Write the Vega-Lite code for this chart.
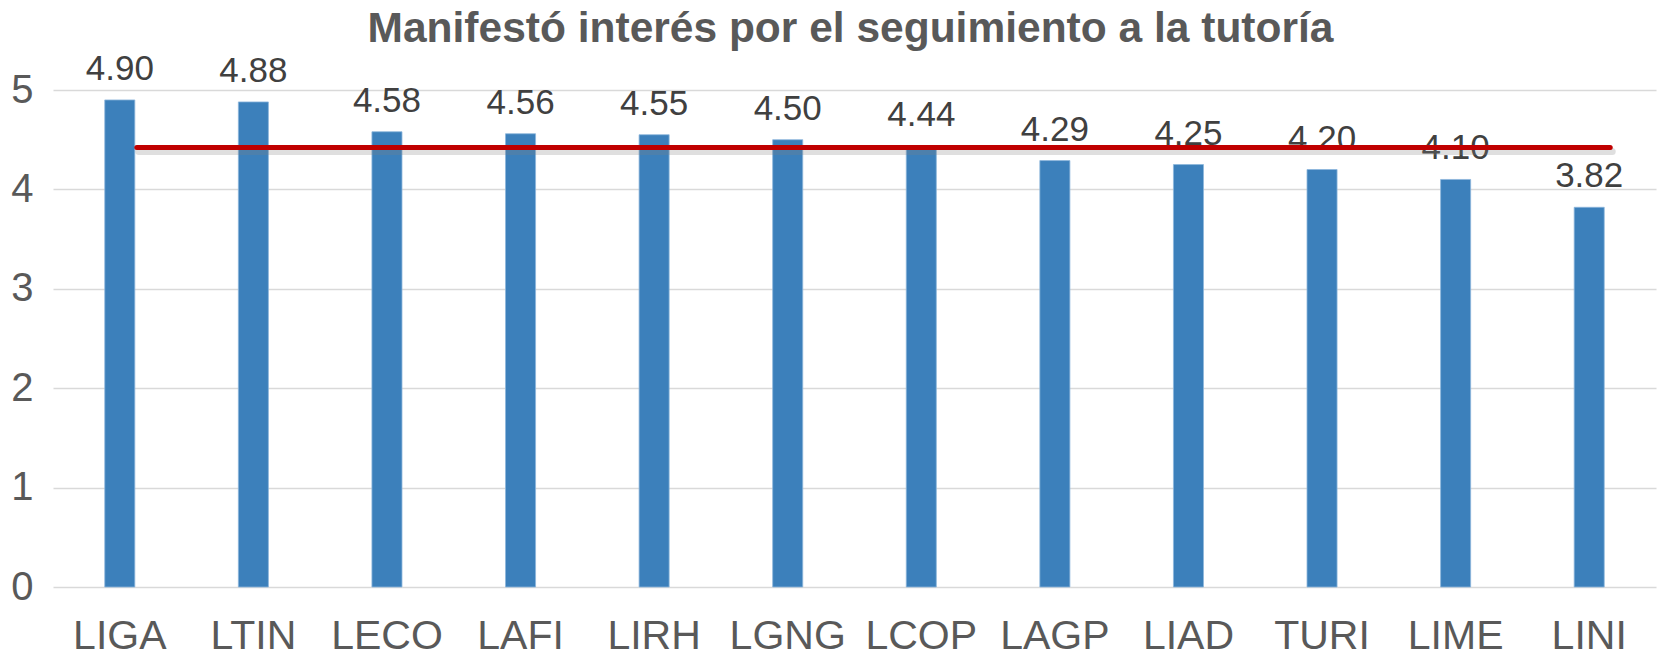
{
  "$schema": "https://vega.github.io/schema/vega-lite/v6.json",
  "width": 1601,
  "height": 497,
  "autosize": "none",
  "padding": {"left": 72, "top": 90, "right": 0, "bottom": 69},
  "background": "white",
  "title": {
    "text": "Manifestó interés por el seguimiento a la tutoría",
    "font": "Liberation Sans",
    "fontSize": 42.5,
    "fontWeight": "bold",
    "color": "#595959",
    "anchor": "middle",
    "frame": "group",
    "dx": -22,
    "baseline": "alphabetic",
    "offset": -33
  },
  "datasets": {
    "bars": [
      {"programa": "LIGA", "valor": 4.90},
      {"programa": "LTIN", "valor": 4.88},
      {"programa": "LECO", "valor": 4.58},
      {"programa": "LAFI", "valor": 4.56},
      {"programa": "LIRH", "valor": 4.55},
      {"programa": "LGNG", "valor": 4.50},
      {"programa": "LCOP", "valor": 4.44},
      {"programa": "LAGP", "valor": 4.29},
      {"programa": "LIAD", "valor": 4.25},
      {"programa": "TURI", "valor": 4.20},
      {"programa": "LIME", "valor": 4.10},
      {"programa": "LINI", "valor": 3.82}
    ],
    "media": [
      {"desde": "LIGA", "hasta": "LINI", "promedio": 4.4225}
    ]
  },
  "config": {
    "view": {"stroke": null},
    "font": "Liberation Sans"
  },
  "layer": [
    {
      "data": {"name": "bars"},
      "mark": {"type": "bar", "color": "#3C80BB", "stroke": "#8DB6DC", "strokeWidth": 0.8},
      "encoding": {
        "x": {
          "field": "programa",
          "type": "nominal",
          "sort": null,
          "scale": {"range": [-19, 1584], "paddingInner": 0.775, "paddingOuter": 0.3875},
          "axis": {
            "title": null,
            "labelAngle": 0,
            "labelFontSize": 41,
            "labelColor": "#595959",
            "labelFont": "Liberation Sans",
            "ticks": false,
            "domain": false,
            "labelPadding": 29
          }
        },
        "y": {
          "field": "valor",
          "type": "quantitative",
          "scale": {"domain": [0, 5], "nice": false, "zero": true},
          "axis": {
            "title": null,
            "values": [0, 1, 2, 3, 4, 5],
            "format": "d",
            "grid": true,
            "gridColor": "#D9D9D9",
            "gridWidth": 1.5,
            "domain": false,
            "ticks": false,
            "labelFontSize": 40,
            "labelColor": "#595959",
            "labelFont": "Liberation Sans",
            "labelPadding": 39
          }
        }
      }
    },
    {
      "data": {"name": "bars"},
      "mark": {"type": "text", "baseline": "alphabetic", "dy": -20, "fontSize": 35, "color": "#404040", "font": "Liberation Sans"},
      "encoding": {
        "x": {"field": "programa", "type": "nominal", "sort": null},
        "y": {"field": "valor", "type": "quantitative"},
        "text": {"field": "valor", "type": "quantitative", "format": ".2f"}
      }
    },
    {
      "data": {"name": "media"},
      "mark": {"type": "rule", "color": "#808080", "opacity": 0.25, "strokeWidth": 7, "strokeCap": "round", "xOffset": 19, "x2Offset": 23, "yOffset": 4},
      "encoding": {
        "x": {"field": "desde", "type": "nominal", "sort": null},
        "x2": {"field": "hasta"},
        "y": {"field": "promedio", "type": "quantitative"}
      }
    },
    {
      "data": {"name": "media"},
      "mark": {"type": "rule", "color": "#C00000", "strokeWidth": 5, "strokeCap": "round", "xOffset": 17, "x2Offset": 21},
      "encoding": {
        "x": {"field": "desde", "type": "nominal", "sort": null},
        "x2": {"field": "hasta"},
        "y": {"field": "promedio", "type": "quantitative"}
      }
    }
  ]
}
